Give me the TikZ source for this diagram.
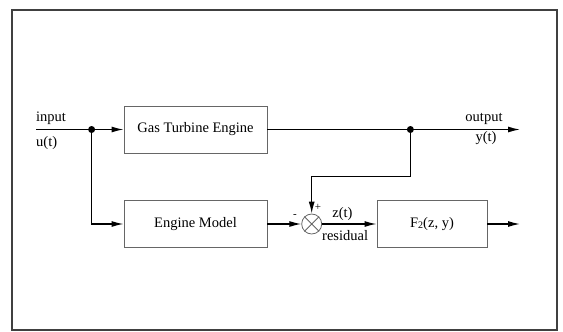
\documentclass[tikz,border=0pt]{standalone}
\usepackage{fontspec}
\setmainfont{Liberation Serif}
\usetikzlibrary{arrows.meta}
\begin{document}
\begin{tikzpicture}[x=1pt,y=-1pt,
  blk/.style={draw=black!60, line width=0.9pt, minimum width=143pt, minimum height=47pt, inner sep=0pt, font=\fontsize{14.5}{16}\selectfont},
  conn/.style={line width=1.3pt},
  arr/.style={conn, -{Latex[length=12pt,width=6pt]}},
  lbl/.style={font=\fontsize{14.5}{16}\selectfont, inner sep=0pt},
  sgn/.style={font=\fontsize{11}{12}\selectfont, inner sep=0pt},
  dot/.style={circle, fill=black, inner sep=0pt, minimum size=7pt}]
\useasboundingbox (0,0) rectangle (563,332);
\draw[line width=1.5pt, black!75] (12,10) rectangle (557,330);
\node[blk] (gte) at (195.5,129.5) {Gas Turbine Engine};
\node[blk] (em) at (195.5,224) {Engine Model};
\node[blk, minimum width=110pt] (f2) at (432,224) {F\raisebox{-1pt}{\fontsize{10}{12}\selectfont 2}(z, y)};
\node[circle, draw=black!60, line width=0.8pt, minimum size=20pt, inner sep=0pt] (sum) at (311.7,224) {};
\draw[black!60, line width=0.8pt] (sum.north west) -- (sum.south east) (sum.north east) -- (sum.south west);
\coordinate (in) at (36,129.5);
\node[dot] (d1) at (91.6,129.5) {};
\node[dot] (d2) at (410.4,129.5) {};
\coordinate (out) at (520,129.5);
\coordinate (fbk) at (311.7,176.7);
\coordinate (fout) at (520,224);
\draw[conn] (in) -- (d1);
\draw[arr] (d1) -- (gte.west);
\draw[arr] (d1) |- (em.west);
\draw[conn] (gte.east) -- (d2);
\draw[arr] (d2) -- (out);
\draw[arr] (d2) |- (fbk) -- (sum.north);
\draw[arr] (em.east) -- (sum.west);
\draw[arr] (sum.east) -- (f2.west);
\draw[arr] (f2.east) -- (fout);
\node[lbl, anchor=base west] (linput) at (36,121.5) {input};
\node[lbl, anchor=base west] (lu) at (36,146) {u(t)};
\node[lbl, anchor=base] (loutput) at (484,121.5) {output};
\node[lbl, anchor=base] (ly) at (486,141) {y(t)};
\node[lbl, anchor=base] (lz) at (342.5,217) {z(t)};
\node[lbl, anchor=base west] (lres) at (322,240) {residual};
\node[sgn, anchor=base] (lminus) at (295,217) {-};
\node[sgn, anchor=base] (lplus) at (318,210) {+};
\end{tikzpicture}
\end{document}
